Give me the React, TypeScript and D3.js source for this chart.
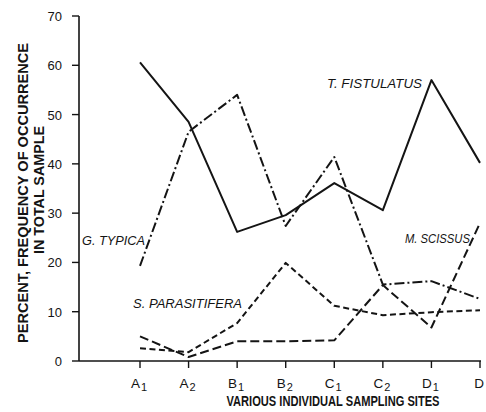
import React from "react";
import * as d3 from "d3";

const sites = ["A1", "A2", "B1", "B2", "C1", "C2", "D1", "D"];
const siteLetters = ["A", "A", "B", "B", "C", "C", "D", "D"];
const siteSubs = ["1", "2", "1", "2", "1", "2", "1", ""];
const yTicks = [0, 10, 20, 30, 40, 50, 60, 70];

const tFistulatus = [60.6, 48.5, 26.2, 29.6, 36.1, 30.6, 57.0, 40.2];
const gTypica = [19.3, 46.5, 54.0, 27.4, 41.4, 15.5, 16.2, 12.6];
const mScissus = [5.0, 0.8, 4.0, 4.0, 4.2, 15.4, 6.8, 28.0];
const sParasitifera = [2.6, 1.8, 7.7, 19.9, 11.2, 9.3, 9.9, 10.3];

const seriesNames = ["T. FISTULATUS", "G. TYPICA", "M. SCISSUS", "S. PARASITIFERA"];

export default function App() {
  const W = 486, H = 412;
  const x = d3.scalePoint<string>().domain(sites).range([140, 480]);
  const y = d3.scaleLinear().domain([0, 70]).range([361, 16]);
  const line = d3
    .line<number>()
    .x((_, i) => x(sites[i]) as number)
    .y((d) => y(d));

  const ink = "#141414";
  const font = "'Liberation Sans', Arial, sans-serif";
  const series = [
    { data: tFistulatus, dash: "none" },
    { data: gTypica, dash: "10 3 2 3" },
    { data: mScissus, dash: "9 4" },
    { data: sParasitifera, dash: "6 3.5" },
  ];

  return (
    <svg
      width={W}
      height={H}
      style={{ position: "absolute", left: 0, top: 0, background: "#fff" }}
      fontFamily={font}
    >
      <rect width={W} height={H} fill="#fff" />
      {/* axes */}
      <line x1={79} x2={79} y1={y(70)} y2={y(0)} stroke={ink} strokeWidth={1.6} />
      <line x1={79} x2={481} y1={y(0)} y2={y(0)} stroke={ink} strokeWidth={1.6} />
      {yTicks.map((t) => (
        <g key={t}>
          <line x1={72} x2={79} y1={y(t)} y2={y(t)} stroke={ink} strokeWidth={1.4} />
          <text x={62} y={y(t) + 5} textAnchor="end" fontSize={13} fill={ink}>
            {t}
          </text>
        </g>
      ))}
      {sites.map((s, i) => (
        <g key={s}>
          <line
            x1={x(s) as number}
            x2={x(s) as number}
            y1={y(0)}
            y2={y(0) + 7}
            stroke={ink}
            strokeWidth={1.4}
          />
          <text x={(x(s) as number) - 1} y={388} textAnchor="middle" fontSize={13.5} fill={ink}>
            {siteLetters[i]}
            {siteSubs[i] && (
              <tspan dx={1} dy={3} fontSize={11}>
                {siteSubs[i]}
              </tspan>
            )}
          </text>
        </g>
      ))}
      {/* axis titles */}
      <text
        x={333}
        y={406}
        textAnchor="middle"
        fontSize={14.5}
        fontWeight={600}
        fill={ink}
        textLength={213}
        lengthAdjust="spacingAndGlyphs"
      >
        VARIOUS INDIVIDUAL SAMPLING SITES
      </text>
      <text
        transform={`translate(28,193) rotate(-90)`}
        textAnchor="middle"
        fontSize={15}
        fontWeight={600}
        fill={ink}
        textLength={300}
        lengthAdjust="spacingAndGlyphs"
      >
        PERCENT, FREQUENCY OF OCCURRENCE
      </text>
      <text
        transform={`translate(44,190) rotate(-90)`}
        textAnchor="middle"
        fontSize={15}
        fontWeight={600}
        fill={ink}
        textLength={128}
        lengthAdjust="spacingAndGlyphs"
      >
        IN TOTAL SAMPLE
      </text>
      {/* series */}
      {series.map((s, i) => (
        <path
          key={i}
          d={line(s.data) || ""}
          fill="none"
          stroke={ink}
          strokeWidth={2}
          strokeDasharray={s.dash}
          strokeLinejoin="round"
        />
      ))}
      {/* series labels */}
      <text x={327} y={88} fontSize={12.5} fontStyle="italic" fill={ink} textLength={95} lengthAdjust="spacingAndGlyphs">
        {seriesNames[0]}
      </text>
      <text x={82} y={245} fontSize={12.5} fontStyle="italic" fill={ink} textLength={63} lengthAdjust="spacingAndGlyphs">
        {seriesNames[1]}
      </text>
      <text x={405} y={243} fontSize={12.5} fontStyle="italic" fill={ink} textLength={65} lengthAdjust="spacingAndGlyphs">
        {seriesNames[2]}
      </text>
      <text x={133} y={308} fontSize={12.5} fontStyle="italic" fill={ink} textLength={109} lengthAdjust="spacingAndGlyphs">
        {seriesNames[3]}
      </text>
    </svg>
  );
}
